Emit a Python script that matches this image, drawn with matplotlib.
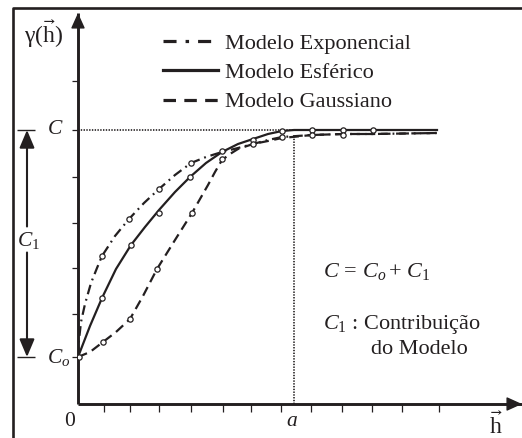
import matplotlib
matplotlib.use('Agg')
import matplotlib.pyplot as plt
from matplotlib.lines import Line2D
from matplotlib.patches import ArrowStyle

plt.rcParams['font.family'] = ['Liberation Serif', 'DejaVu Serif']
plt.rcParams['mathtext.fontset'] = 'custom'
plt.rcParams['mathtext.rm'] = 'Liberation Serif'
plt.rcParams['mathtext.it'] = 'Liberation Serif:italic'
plt.rcParams['mathtext.fallback'] = 'stix'
plt.rcParams['mathtext.default'] = 'it'
plt.rcParams['lines.scale_dashes'] = False

INK = '#231f20'

# ---------------- data ----------------
C0 = 47      # nugget  C_o
C = 274      # sill    C
a = 216      # range   a

exp_x = [0, 1, 3, 7, 13, 19, 24, 37, 51, 66, 81, 97, 113, 128, 144, 160, 175, 190, 204, 234, 265, 295, 359]
exp_y = [47, 64, 82, 100, 121, 136, 148, 168, 185, 201, 215, 229, 241, 247, 252, 256, 260, 264, 267, 269, 270, 270, 271]

sph_x = [0, 12, 24, 38, 53, 67, 81, 97, 112, 128, 144, 160, 175, 190, 204, 216, 359]
sph_y = [47, 78, 106, 135, 159, 177, 194, 212, 227, 241, 252, 260, 265, 270, 273, 274, 274]

gau_x = [0, 12, 25, 38, 52, 65, 79, 97, 114, 122, 130, 137, 144, 152, 160, 175, 190, 204, 234, 265, 295, 359]
gau_y = [47, 52, 62, 72, 85, 108, 135, 164, 191, 205, 219, 232, 244, 250, 255, 260, 263, 266, 269, 270, 270, 271]

exp_mx = [24, 51, 81, 113]
exp_my = [148, 185, 215, 241]
sph_mx = [1, 24, 53, 81, 112, 144, 175, 204, 234, 265, 295]
sph_my = [47, 106, 159, 191, 227, 253, 264, 273, 274, 274, 274]
gau_mx = [25, 52, 79, 114, 144, 175, 204, 234, 265]
gau_my = [62, 85, 135, 191, 245, 260, 267, 269, 269]

xticks = [26, 52, 81, 113, 145, 173, 203, 233, 264, 294, 324, 361]
yticks = [47, 90, 136, 181, 227, 274, 323]

labels = ['Modelo Exponencial', 'Modelo Esférico', 'Modelo Gaussiano']

# ---------------- figure ----------------
W, H = 522, 438
fig = plt.figure(figsize=(W / 100, H / 100), dpi=100)
fig.patch.set_facecolor('white')
ax = fig.add_axes([78 / W, 34 / H, 444 / W, 391 / H])
ax.set_xlim(0, 444)
ax.set_ylim(0, 391)
ax.patch.set_alpha(0)

for s in ['top', 'right']:
    ax.spines[s].set_visible(False)
for s in ['left', 'bottom']:
    ax.spines[s].set_linewidth(2.1)
    ax.spines[s].set_color(INK)
    ax.spines[s].set_capstyle('butt')

ax.set_xticks(xticks)
ax.set_yticks(yticks)
ax.set_xticklabels([])
ax.set_yticklabels([])
ax.tick_params(axis='x', direction='out', length=6, width=0.9, color=INK)
ax.tick_params(axis='y', direction='out', length=4.5, width=0.9, color=INK)

# arrow heads of the axes
head = ArrowStyle('-|>', head_length=0.95, head_width=0.43)
for xy, xyt in [((1, 0), (0.97, 0)), ((0, 1), (0, 0.97))]:
    ax.annotate('', xy=xy, xytext=xyt, xycoords='axes fraction',
                arrowprops=dict(arrowstyle=head, color=INK, lw=1, shrinkA=0, shrinkB=0,
                                mutation_scale=10), annotation_clip=False)

# dotted reference lines
ax.hlines(C, 0, a, colors=INK, linestyles=(0, (1, 1)), lw=1.2)
ax.vlines(a, 0, C - 5, colors=INK, linestyles=(0, (1, 1)), lw=1.2)

# curves
ax.plot(exp_x, exp_y, color=INK, lw=1.6, ls=(0, (7, 3.5, 1.3, 3.5)), solid_capstyle='butt')
ax.plot(sph_x, sph_y, color=INK, lw=1.6)
ax.plot(gau_x, gau_y, color=INK, lw=1.6, ls=(0, (7, 4)))

mk = dict(ls='none', marker='o', ms=3.8, mfc='white', mec=INK, mew=0.9, zorder=5)
ax.plot(exp_mx, exp_my, **mk)
ax.plot(sph_mx, sph_my, **mk)
ax.plot(gau_mx, gau_my, **mk)

# legend
handles = [Line2D([], [], color=INK, lw=2.3, ls=(0, (9.4, 6.5, 2.5, 6.5))),
           Line2D([], [], color=INK, lw=2.3),
           Line2D([], [], color=INK, lw=2.3, ls=(0, (9, 6)))]
leg = fig.legend(handles, labels, loc='upper left', bbox_to_anchor=(163 / W, 1 - 33 / H),
                 frameon=False, fontsize=16, handlelength=2.48, handletextpad=0.3,
                 labelspacing=0.4, borderpad=0, borderaxespad=0)
for t in leg.get_texts():
    t.set_color(INK)

# left double arrow C1
xa = -51
lab_y = (C + C0) / 2 + 3
arr = ArrowStyle('-|>', head_length=0.9, head_width=0.38)
for yt in [C, C0]:
    ax.annotate('', xy=(xa, yt), xytext=(xa, lab_y + (14 if yt > lab_y else -12)),
                xycoords='data',
                arrowprops=dict(arrowstyle=arr, color=INK, lw=1.5, shrinkA=0, shrinkB=0,
                                mutation_scale=12), annotation_clip=False)
ax.hlines([C, C0], xa - 10, xa + 8, colors=INK, lw=1.0, clip_on=False)

# texts
tk = dict(color=INK, clip_on=False)
ax.text(-54, 370, r'$\mathrm{\gamma}\mathrm{(}\vec{\mathrm{h}}\mathrm{)}$', fontsize=17,
        ha='left', va='center', **tk)
ax.text(-31, C, r'$C$', fontsize=15.5, ha='left', va='center', **tk)
ax.text(-31, C0, r'$C_o$', fontsize=15.5, ha='left', va='center', **tk)
ax.text(xa - 10, lab_y, r'$C_1$', fontsize=15.5, ha='left', va='center', **tk)
ax.text(-8, -18, '0', fontsize=15.5, ha='center', va='center', **tk)
ax.text(a - 2, -18, r'$a$', fontsize=15.5, ha='center', va='center', **tk)
ax.text(418, -21, r'$\vec{\mathrm{h}}$', fontsize=17, ha='center', va='center', **tk)
ax.text(245, 132, r'$C\,=\,C_o+\,C_1$', fontsize=16, ha='left', va='center', **tk)
ax.text(245, 80, r'$C_1$ : Contribuição', fontsize=16, ha='left', va='center', **tk)
ax.text(293, 55, 'do Modelo', fontsize=16, ha='left', va='center', **tk)

# outer frame (left and top edges visible)
fig.add_artist(Line2D([12.5 / W, 12.5 / W, 1.02], [-0.02, 1 - 7.5 / H, 1 - 7.5 / H],
                      transform=fig.transFigure, lw=1.9, color=INK))

fig.savefig('out.png', dpi=100)
